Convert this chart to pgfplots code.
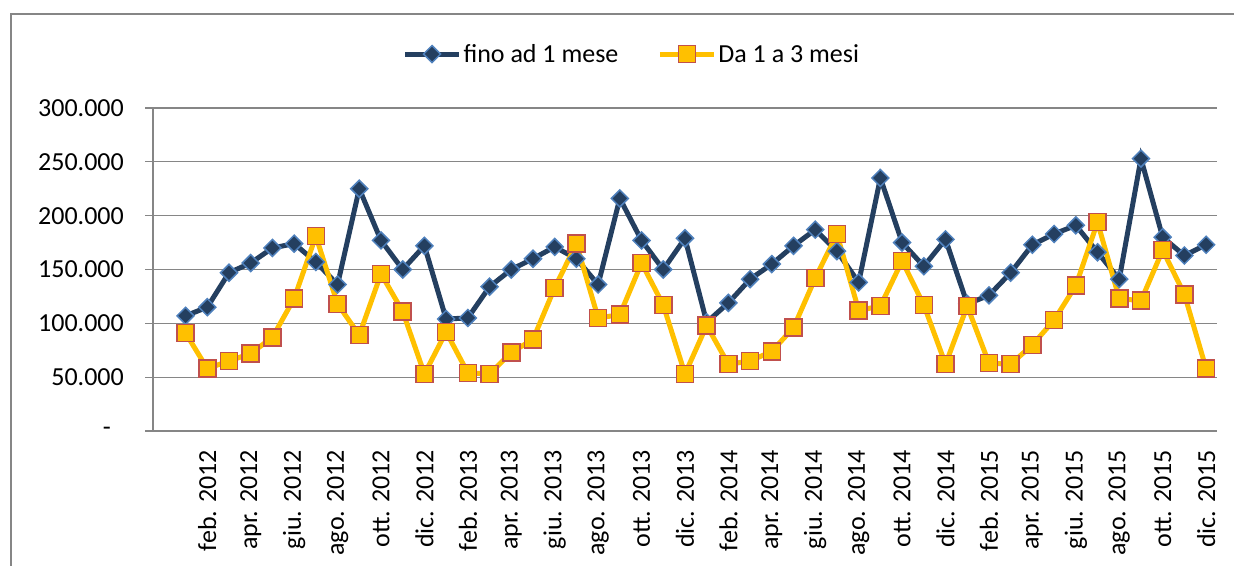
\documentclass[border=0pt]{standalone}
\usepackage{pgfplots}
\usepackage{pgfplotstable}
\pgfplotsset{compat=1.18}
\usepackage{fontspec}
\setmainfont{Carlito}
\definecolor{navy}{HTML}{243F60}
\definecolor{navyedge}{HTML}{4F81BD}
\definecolor{gold}{HTML}{FFC000}
\definecolor{goldedge}{HTML}{C0504D}
\definecolor{gridgray}{HTML}{868686}

\pgfplotstableread{
x y
1 107000
2 115000
3 147000
4 156000
5 170000
6 174000
7 157000
8 136000
9 225000
10 177000
11 150000
12 172000
13 104000
14 105000
15 134000
16 150000
17 160000
18 171000
19 160000
20 136000
21 216000
22 177000
23 150000
24 179000
25 101000
26 119000
27 141000
28 155000
29 172000
30 187000
31 167000
32 138000
33 235000
34 175000
35 153000
36 178000
37 118000
38 126000
39 147000
40 173000
41 183000
42 191000
43 166000
44 141000
45 253000
46 180000
47 163000
48 173000
}\fino

\pgfplotstableread{
x y
1 91000
2 58000
3 65000
4 72000
5 87000
6 123000
7 181000
8 118000
9 89000
10 146000
11 111000
12 53000
13 92000
14 54000
15 53000
16 73000
17 85000
18 133000
19 174000
20 105000
21 108000
22 156000
23 117000
24 53000
25 98000
26 62000
27 65000
28 74000
29 96000
30 142000
31 183000
32 112000
33 116000
34 158000
35 117000
36 62000
37 116000
38 63000
39 62000
40 80000
41 103000
42 135000
43 194000
44 123000
45 121000
46 168000
47 127000
48 58000
}\dauno

\begin{document}
\begin{tikzpicture}[x=1pt,y=1pt]
\useasboundingbox (0,0) rectangle (1234,565);
\draw[gridgray, line width=1.3pt] (11,-30) -- (11,551) -- (1270,551);
\begin{axis}[
  at={(153pt,134pt)}, anchor=south west,
  scale only axis, width=1064pt, height=323pt,
  xmin=-0.5, xmax=48.5, ymin=0, ymax=300000,
  axis x line*=bottom, axis y line*=left,
  axis line style={-, draw=gridgray, line width=1.3pt},
  ytick={0,50000,100000,150000,200000,250000,300000},
  yticklabels={{-\hspace*{13pt}},50.000,100.000,150.000,200.000,250.000,300.000},
  scaled y ticks=false,
  ymajorgrids, grid style={gridgray, line width=1.3pt},
  tick align=outside,
  ytick style={draw=gridgray, line width=1.3pt},
  major tick length=8pt,
  xtick={2,4,...,48},
  xticklabels={feb. 2012,apr. 2012,giu. 2012,ago. 2012,ott. 2012,dic. 2012,
               feb. 2013,apr. 2013,giu. 2013,ago. 2013,ott. 2013,dic. 2013,
               feb. 2014,apr. 2014,giu. 2014,ago. 2014,ott. 2014,dic. 2014,
               feb. 2015,apr. 2015,giu. 2015,ago. 2015,ott. 2015,dic. 2015},
  xtick style={draw=none},
  extra x ticks={-0.5,0.5,...,48.5},
  extra x tick labels={},
  extra x tick style={grid=none, tick style={draw=gridgray, line width=1.3pt}, major tick length=7pt},
  tick label style={font=\fontsize{26pt}{31pt}\selectfont},
  xticklabel style={rotate=90, anchor=east, inner sep=0pt, xshift=-11pt},
  yticklabel style={inner sep=0pt, xshift=-21pt},
  legend columns=2,
  legend style={at={(0.45,1.167)}, anchor=center, draw=none, fill=none,
    font=\fontsize{26pt}{31pt}\selectfont, inner sep=0pt,
    /tikz/every even column/.append style={column sep=37pt}},
  legend image code/.code={\draw[#1, mark repeat=2, mark phase=2] plot coordinates {(0pt,0pt) (27pt,0pt) (54pt,0pt)};},
]
\addplot[navy, line width=5pt, mark=square*, mark size=6pt,
  mark options={rotate=45, fill=navy, draw=navyedge, line width=1.5pt, solid}]
  table[x=x,y=y] {\fino};
\addlegendentry{fino ad 1 mese}
\addplot[gold, line width=5pt, mark=square*, mark size=8.5pt,
  mark options={fill=gold, draw=goldedge, line width=1.5pt, solid}]
  table[x=x,y=y] {\dauno};
\addlegendentry{Da 1 a 3 mesi}
\end{axis}
\end{tikzpicture}
\end{document}
